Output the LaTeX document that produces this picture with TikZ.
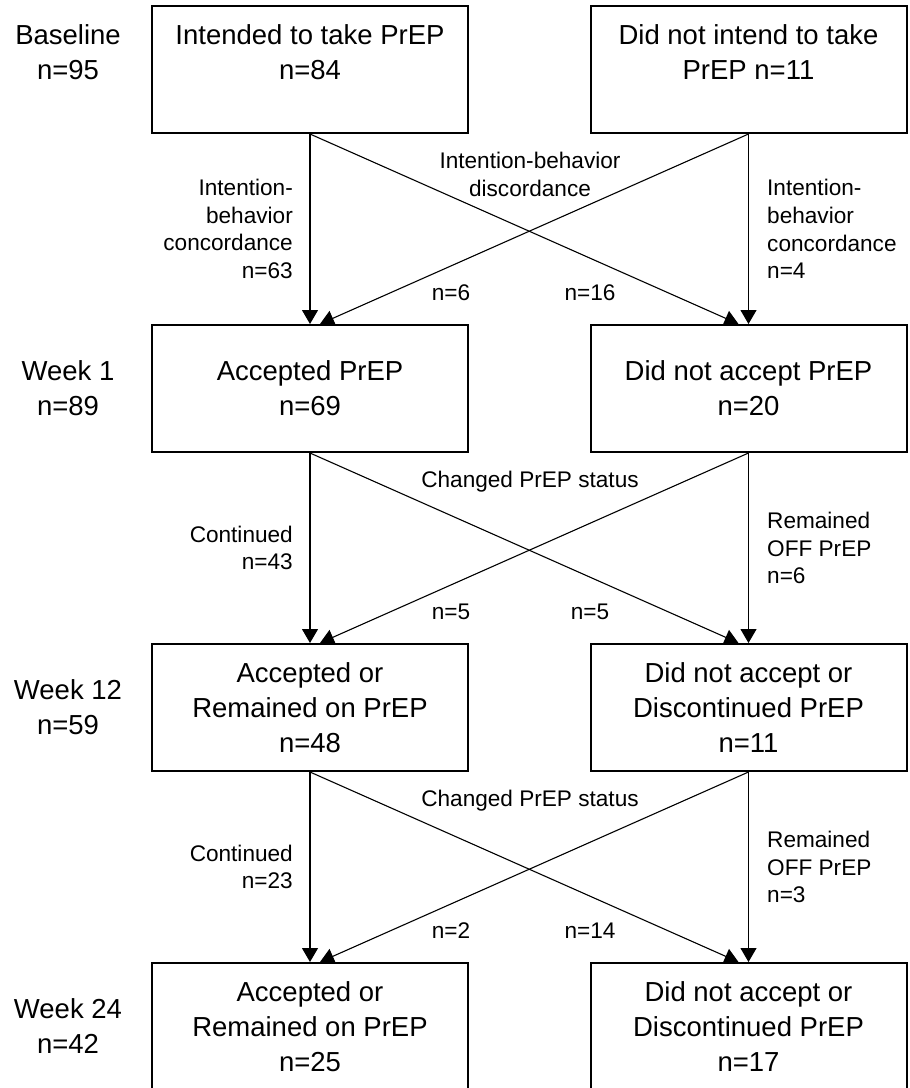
\documentclass[tikz,border=0pt]{standalone}
\usepackage{fontspec}
\setmainfont{Liberation Sans}
\usetikzlibrary{arrows.meta,calc}
\begin{document}
\begin{tikzpicture}[x=1pt,y=-1pt,
  box/.style={draw, line width=2pt, minimum width=316pt, minimum height=127pt, inner sep=0pt, align=center, font=\fontsize{27.5}{35}\selectfont},
  side/.style={align=center, inner sep=0pt, font=\fontsize{27.5}{35}\selectfont},
  lab/.style={inner sep=0pt, font=\fontsize{22.6}{27.7}\selectfont},
  conn/.style={line width=1.1pt, -{Triangle[length=14pt,width=16pt]}},
]
\useasboundingbox[fill=white] (0,0) rectangle (910,1088);

% boxes
\node[box] (b1L) at (310,69.5) {Intended to take PrEP\\ n=84\\ \mbox{}};
\node[box] (b1R) at (748.5,69.5) {Did not intend to take\\ PrEP n=11\\ \mbox{}};
\node[box] (b2L) at (310,388.5) {Accepted PrEP\\ n=69};
\node[box] (b2R) at (748.5,388.5) {Did not accept PrEP\\ n=20};
\node[box] (b3L) at (310,707.5) {Accepted or\\ Remained on PrEP\\ n=48};
\node[box] (b3R) at (748.5,707.5) {Did not accept or\\ Discontinued PrEP\\ n=11};
\node[box] (b4L) at (310,1026.5) {Accepted or\\ Remained on PrEP\\ n=25};
\node[box] (b4R) at (748.5,1026.5) {Did not accept or\\ Discontinued PrEP\\ n=17};

% side labels
\node[side] (s1) at (68,69.5) {Baseline\\ n=95\\ \mbox{}};
\node[side] (s2) at (68,388.5) {Week 1\\ n=89};
\node[side] (s3) at (68,707.5) {Week 12\\ n=59};
\node[side] (s4) at (68,1026.5) {Week 24\\ n=42};

% arrow end points on the top edges
\coordinate (e2L) at ($(b2L.north)+(10,0)$);
\coordinate (e2R) at ($(b2R.north)+(-10,0)$);
\coordinate (e3L) at ($(b3L.north)+(10,0)$);
\coordinate (e3R) at ($(b3R.north)+(-10,0)$);
\coordinate (e4L) at ($(b4L.north)+(10,0)$);
\coordinate (e4R) at ($(b4R.north)+(-10,0)$);

% connectors
\draw[conn] (b1L.south) -- (b2L.north);
\draw[conn] (b1L.south) -- (e2R);
\draw[conn] (b1R.south) -- (e2L);
\draw[conn] (b1R.south) -- (b2R.north);

\draw[conn] (b2L.south) -- (b3L.north);
\draw[conn] (b2L.south) -- (e3R);
\draw[conn] (b2R.south) -- (e3L);
\draw[conn] (b2R.south) -- (b3R.north);

\draw[conn] (b3L.south) -- (b4L.north);
\draw[conn] (b3L.south) -- (e4R);
\draw[conn] (b3R.south) -- (e4L);
\draw[conn] (b3R.south) -- (b4R.north);

% labels baseline -> week 1
\node[lab, align=right, anchor=east] (l1) at (293,229) {Intention-\\behavior\\concordance\\n=63};
\node[lab, align=left, anchor=west] (r1) at (767,229) {Intention-\\behavior\\concordance\\n=4};
\node[lab, align=center, anchor=north] (m1) at (530,152) {Intention-behavior\\discordance};
\node[lab, anchor=base] (c1a) at (451,300) {n=6};
\node[lab, anchor=base] (c1b) at (590,300) {n=16};

% labels week 1 -> week 12
\node[lab, align=right, anchor=east] (l2) at (293,548) {Continued\\n=43};
\node[lab, align=left, anchor=west] (r2) at (767,548) {Remained\\OFF PrEP\\n=6};
\node[lab, anchor=base] (m2) at (530,487) {Changed PrEP status};
\node[lab, anchor=base] (c2a) at (451,619) {n=5};
\node[lab, anchor=base] (c2b) at (590,619) {n=5};

% labels week 12 -> week 24
\node[lab, align=right, anchor=east] (l3) at (293,867) {Continued\\n=23};
\node[lab, align=left, anchor=west] (r3) at (767,867) {Remained\\OFF PrEP\\n=3};
\node[lab, anchor=base] (m3) at (530,806) {Changed PrEP status};
\node[lab, anchor=base] (c3a) at (451,938) {n=2};
\node[lab, anchor=base] (c3b) at (590,938) {n=14};
\end{tikzpicture}
\end{document}
